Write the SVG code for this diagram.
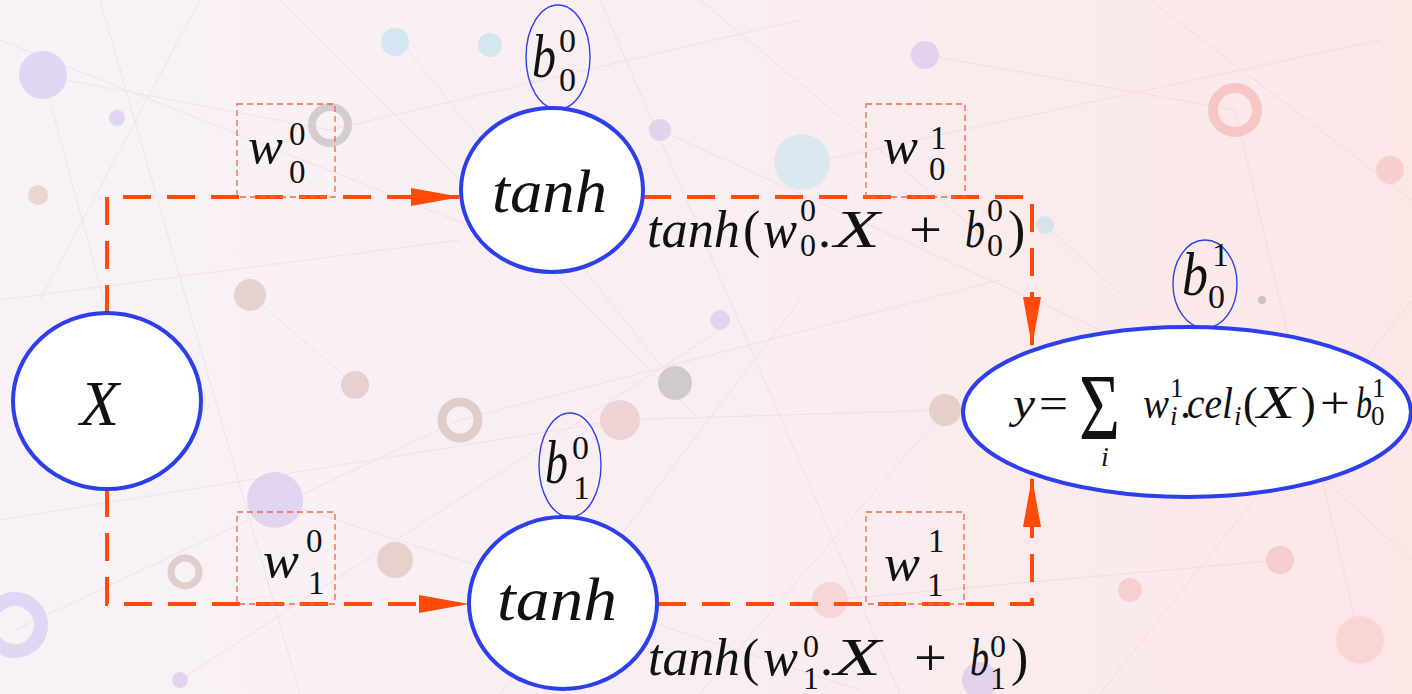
<svg xmlns="http://www.w3.org/2000/svg" width="1412" height="694" viewBox="0 0 1412 694">
<defs>
<linearGradient id="bg" x1="0" y1="0" x2="1" y2="0">
<stop offset="0" stop-color="#f8f2f7"/>
<stop offset="0.5" stop-color="#f9eef1"/>
<stop offset="1" stop-color="#fce7e7"/>
</linearGradient>
<marker id="ah" markerUnits="userSpaceOnUse" markerWidth="50" markerHeight="20" refX="48" refY="9" orient="auto">
<path d="M0,0 L50,9 L0,18 Z" fill="#ff4a0a"/>
</marker>
<style>
.conn{fill:none;stroke:#ff4a0a;stroke-width:4;stroke-dasharray:28 16}
.big{fill:#ffffff;stroke:#2c3fea;stroke-width:4}
.bias{fill:none;stroke:#2c3fea;stroke-width:1.4}
.wbox{fill:none;stroke:#f06a40;stroke-width:1.3;stroke-dasharray:6 4}
.m{font-family:"Liberation Serif","DejaVu Serif",serif;fill:#111111}
.i{font-style:italic}
.deco{opacity:0.35}
.dl{stroke:#c8a4bc;stroke-width:1;opacity:0.5}
</style>
</defs>
<rect x="0" y="0" width="1412" height="694" fill="url(#bg)"/>
<g id="background" class="deco">
<g class="dl">
<line x1="0" y1="40" x2="480" y2="230"/><line x1="40" y1="75" x2="330" y2="130"/>
<line x1="43" y1="75" x2="120" y2="360"/><line x1="100" y1="0" x2="300" y2="694"/>
<line x1="280" y1="0" x2="700" y2="420"/><line x1="330" y1="130" x2="800" y2="20"/>
<line x1="400" y1="40" x2="675" y2="383"/><line x1="660" y1="130" x2="1100" y2="330"/>
<line x1="800" y1="165" x2="1380" y2="40"/><line x1="925" y1="55" x2="1235" y2="110"/>
<line x1="600" y1="0" x2="900" y2="694"/><line x1="460" y1="420" x2="1000" y2="280"/>
<line x1="275" y1="500" x2="860" y2="690"/><line x1="0" y1="520" x2="620" y2="420"/>
<line x1="15" y1="630" x2="460" y2="420"/><line x1="180" y1="680" x2="720" y2="330"/>
<line x1="1045" y1="225" x2="1412" y2="560"/><line x1="1235" y1="110" x2="1360" y2="640"/>
<line x1="1100" y1="694" x2="1412" y2="300"/><line x1="830" y1="600" x2="1280" y2="560"/>
<line x1="700" y1="0" x2="1000" y2="250"/><line x1="945" y1="410" x2="700" y2="694"/>
<line x1="0" y1="300" x2="460" y2="240"/><line x1="1150" y1="0" x2="1412" y2="200"/>
<line x1="200" y1="0" x2="40" y2="300"/><line x1="500" y1="694" x2="800" y2="300"/>
<line x1="355" y1="385" x2="250" y2="295"/><line x1="620" y1="420" x2="945" y2="410"/>
</g>
<circle cx="43" cy="75" r="24" fill="#b9a3ec"/>
<circle cx="117" cy="118" r="8" fill="#b9a3ec"/>
<circle cx="38" cy="195" r="10" fill="#d7a08c"/>
<circle cx="330" cy="125" r="18" fill="none" stroke="#8f8f8f" stroke-width="8"/>
<circle cx="395" cy="42" r="14" fill="#8fd7ee"/>
<circle cx="490" cy="45" r="12" fill="#8fd7ee"/>
<circle cx="660" cy="130" r="11" fill="#b9a3ec"/>
<circle cx="802" cy="162" r="28" fill="#a6e0f2"/>
<circle cx="925" cy="55" r="14" fill="#b9a3ec"/>
<circle cx="1045" cy="225" r="9" fill="#8fd7ee"/>
<circle cx="1235" cy="110" r="22" fill="none" stroke="#f08a8a" stroke-width="10"/>
<circle cx="1390" cy="170" r="14" fill="#f2a0a0"/>
<circle cx="675" cy="383" r="17" fill="#8a8a8a"/>
<circle cx="460" cy="420" r="18" fill="none" stroke="#b98d7d" stroke-width="9"/>
<circle cx="275" cy="500" r="28" fill="#b9a3ec"/>
<circle cx="185" cy="572" r="14" fill="none" stroke="#b98d7d" stroke-width="7"/>
<circle cx="15" cy="625" r="26" fill="none" stroke="#b9a3ec" stroke-width="14"/>
<circle cx="180" cy="680" r="8" fill="#b9a3ec"/>
<circle cx="395" cy="560" r="18" fill="#c59a8e"/>
<circle cx="1280" cy="560" r="14" fill="#f2a0a0"/>
<circle cx="1360" cy="640" r="24" fill="#f6b6b6"/>
<circle cx="830" cy="600" r="18" fill="#f2b0b0"/>
<circle cx="945" cy="410" r="16" fill="#c59a8e"/>
<circle cx="1262" cy="300" r="4" fill="#777777"/>
<circle cx="620" cy="420" r="20" fill="#e0a0a0"/>
<circle cx="250" cy="295" r="16" fill="#c59a8e"/>
<circle cx="355" cy="385" r="14" fill="#c59a8e"/>
<circle cx="720" cy="320" r="10" fill="#b9a3ec"/>
<circle cx="980" cy="680" r="18" fill="#b9a3ec"/>
<circle cx="1130" cy="590" r="12" fill="#f2a0a0"/>
</g>

<g id="connectors">
<path class="conn" d="M107,313 V197 H459" marker-end="url(#ah)"/>
<path class="conn" d="M107,489 V604 H467" marker-end="url(#ah)"/>
<path class="conn" d="M643,197 H1032 V345" marker-end="url(#ah)"/>
<path class="conn" d="M658,604 H1032 V479" marker-end="url(#ah)"/>
</g>

<g id="w00"><rect class="wbox" x="237" y="104" width="98" height="93"/>
<text class="m i" x="248" y="163" font-size="50" textLength="35" lengthAdjust="spacingAndGlyphs">w</text>
<text class="m" x="289" y="145" font-size="33">0</text><text class="m" x="289" y="183" font-size="33">0</text></g>

<g id="w01"><rect class="wbox" x="866" y="104" width="99" height="93"/>
<text class="m i" x="883" y="163" font-size="50" textLength="35" lengthAdjust="spacingAndGlyphs">w</text>
<text class="m" x="930" y="149" font-size="33">1</text><text class="m" x="929" y="180" font-size="33">0</text></g>

<g id="w10"><rect class="wbox" x="237" y="512" width="98" height="92"/>
<text class="m i" x="263" y="577" font-size="50" textLength="36" lengthAdjust="spacingAndGlyphs">w</text>
<text class="m" x="306" y="552" font-size="33">0</text><text class="m" x="308" y="594" font-size="33">1</text></g>

<g id="w11"><rect class="wbox" x="866" y="512" width="98" height="92"/>
<text class="m i" x="884" y="580" font-size="50" textLength="36" lengthAdjust="spacingAndGlyphs">w</text>
<text class="m" x="928" y="552" font-size="33">1</text><text class="m" x="927" y="596" font-size="33">1</text></g>

<g id="nodeX"><ellipse class="big" cx="107" cy="401" rx="94" ry="88"/>
<text class="m i" x="80" y="425" font-size="64">X</text></g>

<g id="tanh0"><ellipse class="big" cx="552" cy="190" rx="91" ry="82"/>
<text class="m i" x="492" y="212" font-size="62" textLength="115" lengthAdjust="spacingAndGlyphs">tanh</text></g>

<g id="tanh1"><ellipse class="big" cx="563" cy="603" rx="94" ry="86"/>
<text class="m i" x="497" y="620" font-size="62" textLength="120" lengthAdjust="spacingAndGlyphs">tanh</text></g>

<g id="b00"><ellipse class="bias" cx="558" cy="57" rx="32" ry="52"/>
<text class="m i" x="532" y="77" font-size="62" textLength="24" lengthAdjust="spacingAndGlyphs">b</text>
<text class="m" x="559" y="52" font-size="34">0</text><text class="m" x="559" y="91" font-size="34">0</text></g>

<g id="b10"><ellipse class="bias" cx="570" cy="465" rx="31" ry="52"/>
<text class="m i" x="545" y="483" font-size="62" textLength="23" lengthAdjust="spacingAndGlyphs">b</text>
<text class="m" x="572" y="459" font-size="34">0</text><text class="m" x="573" y="499" font-size="34">1</text></g>

<g id="b01"><ellipse class="bias" cx="1205" cy="284" rx="32" ry="44"/>
<text class="m i" x="1182" y="295" font-size="62" textLength="26" lengthAdjust="spacingAndGlyphs">b</text>
<text class="m" x="1212" y="266" font-size="34">1</text><text class="m" x="1208" y="308" font-size="34">0</text></g>

<g id="output"><ellipse class="big" cx="1187" cy="412" rx="224" ry="85"/>
<text class="m i" x="1013" y="418" font-size="44" textLength="22" lengthAdjust="spacingAndGlyphs">y</text>
<text class="m" x="1039" y="418" font-size="44" textLength="29" lengthAdjust="spacingAndGlyphs">=</text>
<text class="m" x="1079" y="440" font-size="96" textLength="41" lengthAdjust="spacingAndGlyphs">Σ</text>
<text class="m i" x="1101" y="466" font-size="28">i</text>
<text class="m i" x="1143" y="418" font-size="44" textLength="26" lengthAdjust="spacingAndGlyphs">w</text>
<text class="m" x="1170" y="397" font-size="27">1</text>
<text class="m i" x="1170" y="425" font-size="27">i</text>
<text class="m" x="1180" y="418" font-size="44">.</text>
<text class="m i" x="1187" y="418" font-size="44" textLength="46" lengthAdjust="spacingAndGlyphs">cel</text>
<text class="m i" x="1234" y="425" font-size="27">i</text>
<text class="m" x="1243" y="418" font-size="44">(</text>
<text class="m i" x="1257" y="418" font-size="46" textLength="38" lengthAdjust="spacingAndGlyphs">X</text>
<text class="m" x="1301" y="418" font-size="44">)</text>
<text class="m" x="1320" y="418" font-size="44" textLength="30" lengthAdjust="spacingAndGlyphs">+</text>
<text class="m i" x="1356" y="418" font-size="44" textLength="16" lengthAdjust="spacingAndGlyphs">b</text>
<text class="m" x="1372" y="397" font-size="27">1</text>
<text class="m" x="1371" y="425" font-size="27">0</text></g>

<g id="label0">
<text class="m i" x="647" y="247" font-size="52" textLength="93" lengthAdjust="spacingAndGlyphs">tanh</text>
<text class="m" x="743" y="247" font-size="52">(</text>
<text class="m i" x="763" y="247" font-size="52" textLength="34" lengthAdjust="spacingAndGlyphs">w</text>
<text class="m" x="800" y="221" font-size="32">0</text><text class="m" x="800" y="256" font-size="32">0</text>
<text class="m" x="818" y="247" font-size="52">.</text>
<text class="m i" x="834" y="247" font-size="52" textLength="46" lengthAdjust="spacingAndGlyphs">X</text>
<text class="m" x="909" y="247" font-size="52" textLength="33" lengthAdjust="spacingAndGlyphs">+</text>
<text class="m i" x="965" y="247" font-size="52" textLength="20" lengthAdjust="spacingAndGlyphs">b</text>
<text class="m" x="987" y="221" font-size="32">0</text><text class="m" x="987" y="256" font-size="32">0</text>
<text class="m" x="1008" y="247" font-size="52">)</text>
</g>

<g id="label1">
<text class="m i" x="648" y="675" font-size="52" textLength="92" lengthAdjust="spacingAndGlyphs">tanh</text>
<text class="m" x="742" y="675" font-size="52">(</text>
<text class="m i" x="763" y="675" font-size="52" textLength="35" lengthAdjust="spacingAndGlyphs">w</text>
<text class="m" x="803" y="657" font-size="32">0</text><text class="m" x="803" y="689" font-size="32">1</text>
<text class="m" x="820" y="675" font-size="52">.</text>
<text class="m i" x="834" y="675" font-size="52" textLength="47" lengthAdjust="spacingAndGlyphs">X</text>
<text class="m" x="914" y="675" font-size="52" textLength="33" lengthAdjust="spacingAndGlyphs">+</text>
<text class="m i" x="970" y="675" font-size="52" textLength="19" lengthAdjust="spacingAndGlyphs">b</text>
<text class="m" x="990" y="657" font-size="32">0</text><text class="m" x="990" y="689" font-size="32">1</text>
<text class="m" x="1011" y="675" font-size="52">)</text>
</g>
</svg>
